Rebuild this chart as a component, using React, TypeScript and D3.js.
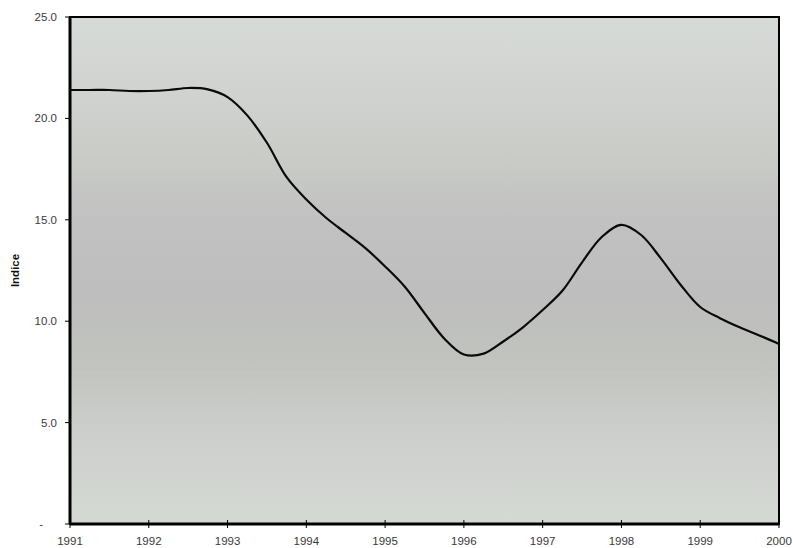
import React from "react";
import * as d3 from "d3";

// Quarterly index values, 1991 – 2000
const periods: number[] = [
  1991.0, 1991.25, 1991.5, 1991.75,
  1992.0, 1992.25, 1992.5, 1992.75,
  1993.0, 1993.25, 1993.5, 1993.75,
  1994.0, 1994.25, 1994.5, 1994.75,
  1995.0, 1995.25, 1995.5, 1995.75,
  1996.0, 1996.25, 1996.5, 1996.75,
  1997.0, 1997.25, 1997.5, 1997.75,
  1998.0, 1998.25, 1998.5, 1998.75,
  1999.0, 1999.25, 1999.5, 1999.75,
  2000.0,
];
const indice: number[] = [
  21.4, 21.4, 21.4, 21.35,
  21.35, 21.4, 21.5, 21.43,
  21.05, 20.15, 18.8, 17.1,
  16.0, 15.1, 14.35, 13.6,
  12.7, 11.7, 10.4, 9.15,
  8.36, 8.4, 9.0, 9.7,
  10.55, 11.5, 12.9, 14.15,
  14.75, 14.25, 13.1, 11.8,
  10.7, 10.15, 9.7, 9.3,
  8.88,
];
const yearTicks: number[] = [1991, 1992, 1993, 1994, 1995, 1996, 1997, 1998, 1999, 2000];
const valueTicks: number[] = [0, 5, 10, 15, 20, 25];
const yTitle = "Indice";

const W = 793;
const H = 548;
const M = { left: 70, right: 14, top: 17, bottom: 24 };
const FONT = "'Liberation Sans', Arial, sans-serif";

export default function App() {
  const x = d3.scaleLinear().domain([1991, 2000]).range([M.left, W - M.right]);
  const y = d3.scaleLinear().domain([0, 25]).range([H - M.bottom, M.top]);

  const line = d3
    .line<number>()
    .x((_, i) => x(periods[i]))
    .y((v) => y(v))
    .curve(d3.curveCatmullRom.alpha(0.5));

  const fmt = (v: number) => (v === 0 ? "-" : d3.format(".1f")(v));
  const [x0, x1] = x.range();
  const [yb, yt] = y.range();

  return (
    <svg
      width={W}
      height={H}
      style={{ position: "absolute", left: 0, top: 0, background: "#ffffff" }}
    >
      <defs>
        <linearGradient id="plotBg" x1="0" y1="0" x2="0" y2="1">
          <stop offset="0%" stopColor="#d6dad7" />
          <stop offset="12%" stopColor="#d2d4d2" />
          <stop offset="27%" stopColor="#c9ccc7" />
          <stop offset="40%" stopColor="#c1c1c1" />
          <stop offset="55%" stopColor="#bebebe" />
          <stop offset="68%" stopColor="#c0c3be" />
          <stop offset="80%" stopColor="#cbcdca" />
          <stop offset="100%" stopColor="#d5d9d4" />
        </linearGradient>
      </defs>

      <rect x={x0} y={yt} width={x1 - x0} height={yb - yt} fill="url(#plotBg)" />

      <path d={line(indice) ?? ""} fill="none" stroke="#0a0a0a" strokeWidth={2.2} />

      {/* frame */}
      <rect
        x={x0}
        y={yt}
        width={x1 - x0}
        height={yb - yt}
        fill="none"
        stroke="#000"
        strokeWidth={2}
      />
      <line x1={x0} x2={x0} y1={yt} y2={yb} stroke="#000" strokeWidth={3} />
      <line x1={x0} x2={x1} y1={yb} y2={yb} stroke="#000" strokeWidth={3} />

      {/* y axis */}
      {valueTicks.map((v) => (
        <g key={v}>
          <line x1={x0 - 5} x2={x0} y1={y(v)} y2={y(v)} stroke="#000" strokeWidth={1} />
          <text
            x={v === 0 ? 43 : 57}
            y={y(v)}
            dy="0.35em"
            textAnchor="end"
            fontFamily={FONT}
            fontSize={11.5}
            fill="#3a3a3a"
          >
            {fmt(v)}
          </text>
        </g>
      ))}

      {/* x axis */}
      {yearTicks.map((t) => (
        <g key={t}>
          <line x1={x(t)} x2={x(t)} y1={yb - 4} y2={yb + 4} stroke="#000" strokeWidth={1} />
          <text
            x={x(t)}
            y={545}
            textAnchor="middle"
            fontFamily={FONT}
            fontSize={11.5}
            fill="#3a3a3a"
          >
            {t}
          </text>
        </g>
      ))}

      <text
        transform={`translate(19, ${(yt + yb) / 2}) rotate(-90)`}
        textAnchor="middle"
        fontFamily={FONT}
        fontSize={11.5}
        fontWeight="bold"
        fill="#111"
      >
        {yTitle}
      </text>
    </svg>
  );
}
